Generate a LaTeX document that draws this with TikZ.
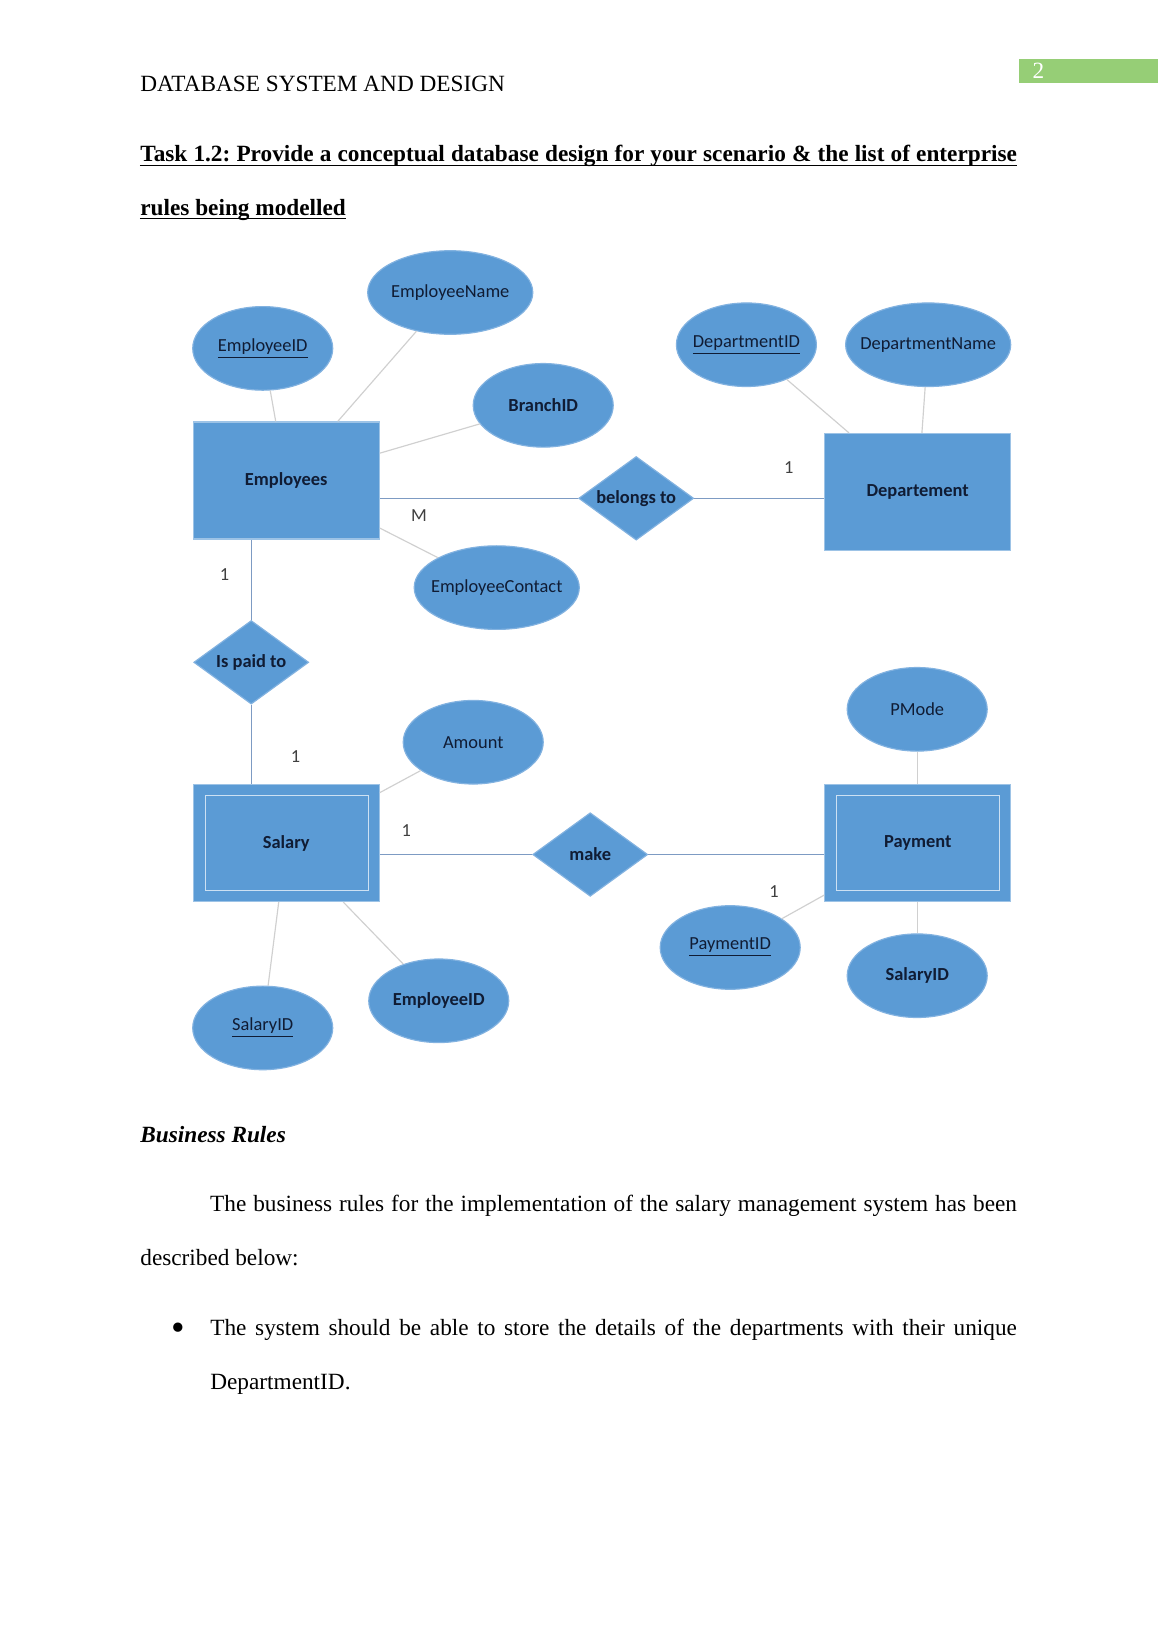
\documentclass[tikz,border=0pt]{standalone}
\usepackage{fontspec}
\setmainfont{Liberation Serif}
\newfontfamily\erfont{Carlito}
\usetikzlibrary{shapes.geometric,calc}

\definecolor{erblue}{RGB}{91,155,213}
\definecolor{eredge}{RGB}{130,178,224}
\definecolor{boxedge}{RGB}{157,195,230}
\definecolor{inneredge}{RGB}{205,225,243}
\definecolor{ertext}{RGB}{16,28,52}
\definecolor{linkblue}{RGB}{125,155,195}
\definecolor{attrgray}{RGB}{208,208,208}
\definecolor{pagegreen}{RGB}{150,206,118}

\tikzset{
  entity/.style={rectangle, fill=erblue, draw=boxedge, line width=0.6pt,
    minimum width=3.372cm, minimum height=2.122cm, inner sep=0pt,
    font=\erfont\bfseries\fontsize{9.5}{11}\selectfont, text=ertext},
  weakinner/.style={draw=inneredge, line width=0.6pt},
  attr/.style={ellipse, fill=erblue, draw=eredge, line width=0.6pt,
    minimum width=2.538cm, minimum height=1.515cm, inner xsep=-14pt, inner ysep=0pt,
    font=\erfont\fontsize{9.5}{11}\selectfont, text=ertext},
  wideattr/.style={attr, minimum width=2.993cm},
  boldattr/.style={attr, font=\erfont\bfseries\fontsize{9.5}{11}\selectfont},
  rel/.style={diamond, fill=erblue, draw=eredge, line width=0.6pt,
    minimum width=2.084cm, minimum height=1.515cm, inner xsep=-14pt, inner ysep=-3pt,
    font=\erfont\bfseries\fontsize{9.5}{11}\selectfont, text=ertext},
  relline/.style={draw=linkblue, line width=0.7pt},
  attrline/.style={draw=attrgray, line width=0.6pt},
  card/.style={inner sep=0pt, font=\erfont\fontsize{9.5}{11}\selectfont, text=black!75},
  bodytext/.style={anchor=base west, inner sep=0pt, font=\fontsize{12}{27.9}\selectfont},
  titleline/.style={bodytext, font=\bfseries\fontsize{12}{14}\selectfont},
  underbar/.style={line width=0.8pt},
}

\begin{document}
\begin{tikzpicture}[x=0.018943cm, y=-0.018943cm]

\useasboundingbox (0,0) rectangle (1108.6,1568);
\fill[white] (0,0) rectangle (1108.6,1568);

% page header:
\fill[pagegreen] (975,56) rectangle (1108.6,79);
\node[anchor=base west, inner sep=0pt, text=white, font=\fontsize{12}{14}\selectfont] (pagenum) at (988,75) {2};
\node[bodytext] (header) at (134,88) {DATABASE SYSTEM AND DESIGN};

% task title:
\node[titleline] (task1) at (134,155) {\frenchspacing\makebox[15.89cm][s]{Task 1.2: Provide a conceptual database design for your scenario \& the list of enterprise}};
\node[titleline] (task2) at (134,206) {rules being modelled};
\draw[underbar] ([yshift=-1.8pt]task1.base west) -- ([yshift=-1.8pt]task1.base east);
\draw[underbar] ([yshift=-1.8pt]task2.base west) -- ([yshift=-1.8pt]task2.base east);

% entities:
\node[entity] (emp) at (274,460) {Employees};
\node[entity] (dept) at (878.5,471) {Departement};
\node[entity] (sal) at (274,807) {Salary};
\node[entity] (pay) at (878.5,807) {Payment};
\draw[weakinner] ($(sal.north west)+(12,11)$) rectangle ($(sal.south east)+(-11,-11)$);
\draw[weakinner] ($(pay.north west)+(12,11)$) rectangle ($(pay.south east)+(-11,-11)$);

% relationships:
\node[rel] (belongs) at (609,477) {belongs to};
\node[rel] (paid) at (240.5,634) {Is paid to};
\node[rel] (make) at (565,818) {make};

% attributes:
\node[wideattr] (empname) at (431,280) {EmployeeName};
\node[attr] (empid) at (251.5,333.5) {\underline{EmployeeID}};
\node[boldattr] (branch) at (520,388) {BranchID};
\node[wideattr] (contact) at (475.5,562.5) {EmployeeContact};
\node[attr] (deptid) at (714.5,330) {\underline{DepartmentID}};
\node[wideattr] (deptname) at (888.5,330) {DepartmentName};
\node[attr] (amount) at (453,710.5) {Amount};
\node[attr] (pmode) at (878,679) {PMode};
\node[attr] (payid) at (699,907) {\underline{PaymentID}};
\node[boldattr] (paysalid) at (878,934) {SalaryID};
\node[boldattr] (salempid) at (420,958) {EmployeeID};
\node[attr] (salid) at (251.5,984) {\underline{SalaryID}};

% attribute links:
\draw[attrline] (empid) -- (emp);
\draw[attrline] (empname) -- (emp);
\draw[attrline] (branch) -- (emp);
\draw[attrline] (contact) -- (emp);
\draw[attrline] (deptid) -- (dept);
\draw[attrline] (deptname) -- (dept);
\draw[attrline] (amount) -- (sal);
\draw[attrline] (salid) -- (sal);
\draw[attrline] (salempid) -- (sal);
\draw[attrline] (pmode.south) -- (pmode.south |- pay.north);
\draw[attrline] (payid) -- (pay);
\draw[attrline] (paysalid.north) -- (paysalid.north |- pay.south);

% relationship links:
\draw[relline] (belongs.west) -- (belongs.west -| emp.east);
\draw[relline] (belongs.east) -- (belongs.east -| dept.west);
\draw[relline] (paid.north) -- (paid.north |- emp.south);
\draw[relline] (paid.south) -- (paid.south |- sal.north);
\draw[relline] (make.west) -- (make.west -| sal.east);
\draw[relline] (make.east) -- (make.east -| pay.west);

% cardinalities:
\node[card] (cardm) at (401,494) {M};
\node[card] (carddept) at (755,448) {1};
\node[card] (cardemp) at (215,550) {1};
\node[card] (cardsal) at (283,724) {1};
\node[card] (cardmake) at (389,795) {1};
\node[card] (cardpay) at (741,853) {1};

% business rules:
\node[bodytext, font=\bfseries\itshape\fontsize{12}{14}\selectfont] (brtitle) at (134,1094) {Business Rules};
\node[bodytext, text width=15.89cm, align=justify] (brtext) at (134,1160)
  {\hspace*{36pt}The business rules for the implementation of the salary management system has been described below:};
\node[inner sep=0pt, font=\fontsize{20}{20}\selectfont] (bullet) at (171,1275) {\textbullet};
\node[bodytext, text width=14.62cm, align=justify] (rule1) at (201,1278)
  {The system should be able to store the details of the departments with their unique DepartmentID.};

\end{tikzpicture}
\end{document}
